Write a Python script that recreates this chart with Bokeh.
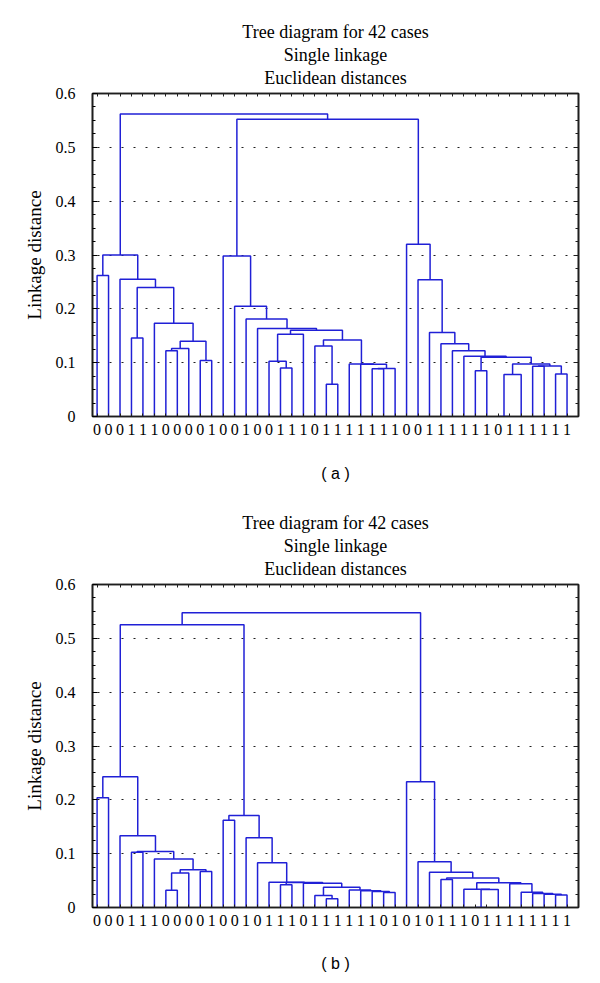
from bokeh.plotting import figure
from bokeh.models import Range1d, FixedTicker, LinearAxis, Title, ColumnDataSource
from bokeh.layouts import column
from bokeh.embed import file_html
from bokeh.resources import INLINE

# ---------------- data ----------------
title_lines = ["Tree diagram for 42 cases", "Single linkage", "Euclidean distances"]
y_axis_label = "Linkage distance"
y_ticks = [0, 0.1, 0.2, 0.3, 0.4, 0.5, 0.6]
y_tick_labels = ["0", "0.1", "0.2", "0.3", "0.4", "0.5", "0.6"]
panel_labels = ["( a )", "( b )"]

# leaf labels in display order (42 cases)
a_leaf_labels = ["0", "0", "0", "1", "1", "1", "0", "0", "0", "0", "1", "0", "0", "1",
                 "0", "0", "1", "1", "1", "0", "1", "1", "1", "1", "1", "1", "1", "0",
                 "0", "1", "1", "1", "1", "1", "1", "0", "1", "1", "1", "1", "1", "1"]
b_leaf_labels = ["0", "0", "0", "1", "1", "1", "0", "0", "0", "0", "1", "0", "0", "1",
                 "0", "1", "1", "1", "0", "1", "1", "1", "1", "1", "1", "0", "1", "0",
                 "1", "0", "1", "1", "1", "0", "1", "1", "1", "1", "1", "1", "1", "1"]

# linkage (a): merge k creates node 42+k from (left, right) at height
a_left = [0, 3, 6, 44, 9, 45, 5, 43, 2, 42,
          16, 15, 53, 20, 19, 24, 57, 23, 22, 56, 54, 14, 13, 12, 11,
          35, 67, 38, 40, 69, 68, 33, 73, 32, 31, 30, 29, 28, 27,
          66, 51]
a_right = [1, 4, 7, 8, 10, 46, 47, 48, 49, 50,
           17, 52, 18, 21, 55, 25, 26, 58, 59, 60, 61, 62, 63, 64, 65,
           36, 37, 39, 41, 70, 71, 34, 72, 74, 75, 76, 77, 78, 79,
           80, 81]
a_height = [0.262, 0.146, 0.122, 0.1265, 0.104, 0.140, 0.173, 0.2395, 0.255, 0.300,
            0.090, 0.1025, 0.153, 0.060, 0.131, 0.0885, 0.089, 0.097, 0.0975, 0.142,
            0.160, 0.1636, 0.181, 0.205, 0.298,
            0.0, 0.078, 0.0935, 0.079, 0.094, 0.0975, 0.085, 0.110, 0.112, 0.122,
            0.135, 0.156, 0.254, 0.320,
            0.552, 0.562]

# linkage (b)
b_left = [0, 3, 6, 44, 9, 45, 5, 43, 2, 42,
          11, 16, 20, 19, 25, 24, 23, 22, 55, 18, 53, 15, 14, 13, 52,
          33, 67, 32, 40, 39, 38, 37, 36, 69, 30, 76, 29, 28, 27,
          51, 81]
b_right = [1, 4, 7, 8, 10, 46, 47, 48, 49, 50,
           12, 17, 21, 54, 26, 56, 57, 58, 59, 60, 61, 62, 63, 64, 65,
           34, 35, 68, 41, 70, 71, 72, 73, 74, 31, 75, 77, 78, 79,
           66, 80]
b_height = [0.204, 0.1025, 0.032, 0.064, 0.067, 0.0703, 0.090, 0.104, 0.1334, 0.243,
            0.162, 0.0422, 0.0161, 0.0223, 0.028, 0.0295, 0.031, 0.0325, 0.0378, 0.0452,
            0.0465, 0.0471, 0.0833, 0.1297, 0.171,
            0.0, 0.0335, 0.0341, 0.023, 0.0245, 0.026, 0.0285, 0.044, 0.046, 0.0521,
            0.0546, 0.0653, 0.0851, 0.2337,
            0.5254, 0.5477]

# ---------------- style ----------------
SERIF = "Liberation Serif"
SANS = "Liberation Sans"
BLUE = "#2020d6"
FRAME = "#1e1e1e"


def dendro_source(n_leaves, left, right, heights):
    pos = {i: float(i) for i in range(n_leaves)}
    hgt = {i: 0.0 for i in range(n_leaves)}
    xs, ys = [], []
    for k, (l, r, h) in enumerate(zip(left, right, heights)):
        node = n_leaves + k
        xs.append([pos[l], pos[l], pos[r], pos[r]])
        ys.append([hgt[l], h, h, hgt[r]])
        pos[node] = (pos[l] + pos[r]) / 2.0
        hgt[node] = h
    return ColumnDataSource(dict(xs=xs, ys=ys))


def make_panel(leaf_labels, left, right, heights, panel_label, height, top, bottom, label_standoff):
    n = len(leaf_labels)
    p = figure(width=592, height=height, output_backend="svg", toolbar_location=None,
               x_range=Range1d(-0.4, n), y_range=Range1d(0, 0.6),
               min_border_left=92, min_border_right=14,
               min_border_top=top, min_border_bottom=bottom,
               title_location=None)
    p.background_fill_color = "white"
    p.border_fill_color = "white"
    p.outline_line_color = FRAME
    p.outline_line_width = 1.6

    # grid
    p.xgrid.visible = False
    p.ygrid.ticker = FixedTicker(ticks=y_ticks[1:-1])
    p.ygrid.grid_line_color = "#202020"
    p.ygrid.grid_line_dash = "2 10"
    p.ygrid.grid_line_dash_offset = 7
    p.ygrid.grid_line_width = 1.2

    # bottom axis: leaf labels
    xa = p.xaxis[0]
    xa.ticker = FixedTicker(ticks=list(range(n)))
    xa.major_label_overrides = {i: lab for i, lab in enumerate(leaf_labels)}
    xa.major_label_text_font = SERIF
    xa.major_label_text_font_size = "16px"
    xa.major_label_text_color = "black"
    xa.major_label_standoff = 7
    xa.major_tick_in = 3
    xa.major_tick_out = 0
    xa.minor_tick_line_color = None
    xa.axis_line_color = FRAME
    xa.axis_line_width = 1.6
    xa.major_tick_line_color = FRAME
    xa.axis_label = panel_label
    xa.axis_label_text_font = SANS
    xa.axis_label_text_font_style = "normal"
    xa.axis_label_text_font_size = "16px"
    xa.axis_label_text_color = "black"
    xa.axis_label_standoff = label_standoff

    # left axis
    yticker = FixedTicker(ticks=y_ticks, minor_ticks=[i * 0.025 for i in range(25)])
    ya = p.yaxis[0]
    ya.ticker = yticker
    ya.major_label_overrides = dict(zip(y_ticks, y_tick_labels))
    ya.major_label_text_font = SERIF
    ya.major_label_text_font_size = "16px"
    ya.major_label_text_color = "black"
    ya.major_label_standoff = 17
    ya.major_tick_in = 5
    ya.major_tick_out = 0
    ya.minor_tick_in = 3
    ya.minor_tick_out = 0
    ya.axis_line_color = FRAME
    ya.axis_line_width = 1.6
    ya.axis_label = y_axis_label
    ya.axis_label_text_font = SERIF
    ya.axis_label_text_font_style = "normal"
    ya.axis_label_text_font_size = "19px"
    ya.axis_label_text_color = "black"
    ya.axis_label_standoff = 8

    # right axis (ticks only, labels not drawn)
    ra = LinearAxis(ticker=yticker, major_tick_in=5, major_tick_out=0,
                    minor_tick_in=3, minor_tick_out=0,
                    major_label_text_font_size="1px", major_label_text_color=None,
                    major_label_standoff=0,
                    axis_line_color=FRAME, axis_line_width=1.6,
                    major_tick_line_color=FRAME, minor_tick_line_color=FRAME)
    p.add_layout(ra, "right")

    # top axis (ticks only, labels not drawn)
    ta = LinearAxis(ticker=FixedTicker(ticks=list(range(n))), major_tick_in=3, major_tick_out=0,
                    minor_tick_line_color=None,
                    major_label_text_font_size="1px", major_label_text_color=None,
                    major_label_standoff=0,
                    axis_line_color=FRAME, axis_line_width=1.6,
                    major_tick_line_color=FRAME)
    p.add_layout(ta, "above")

    # invisible spacer between the frame and the title block
    spacer = LinearAxis(ticker=FixedTicker(ticks=[0]), major_tick_in=0, major_tick_out=5,
                        major_tick_line_color=None, minor_tick_line_color=None,
                        axis_line_color=None,
                        major_label_text_font_size="1px", major_label_text_color=None,
                        major_label_standoff=0)
    p.add_layout(spacer, "above")

    for line in reversed(title_lines):
        p.add_layout(Title(text=line, align="center", text_font=SERIF,
                           text_font_size="18px", text_font_style="normal",
                           text_color="black", standoff=1), "above")

    src = dendro_source(n, left, right, heights)
    p.multi_line(xs="xs", ys="ys", source=src, line_color=BLUE, line_width=1.5)
    return p


pa = make_panel(a_leaf_labels, a_left, a_right, a_height, panel_labels[0], 494, 93, 78, 27)
pb = make_panel(b_leaf_labels, b_left, b_right, b_height, panel_labels[1], 485, 90, 72, 26)

layout = column(pa, pb, spacing=0)
open("out.html", "w").write(file_html(layout, INLINE))
